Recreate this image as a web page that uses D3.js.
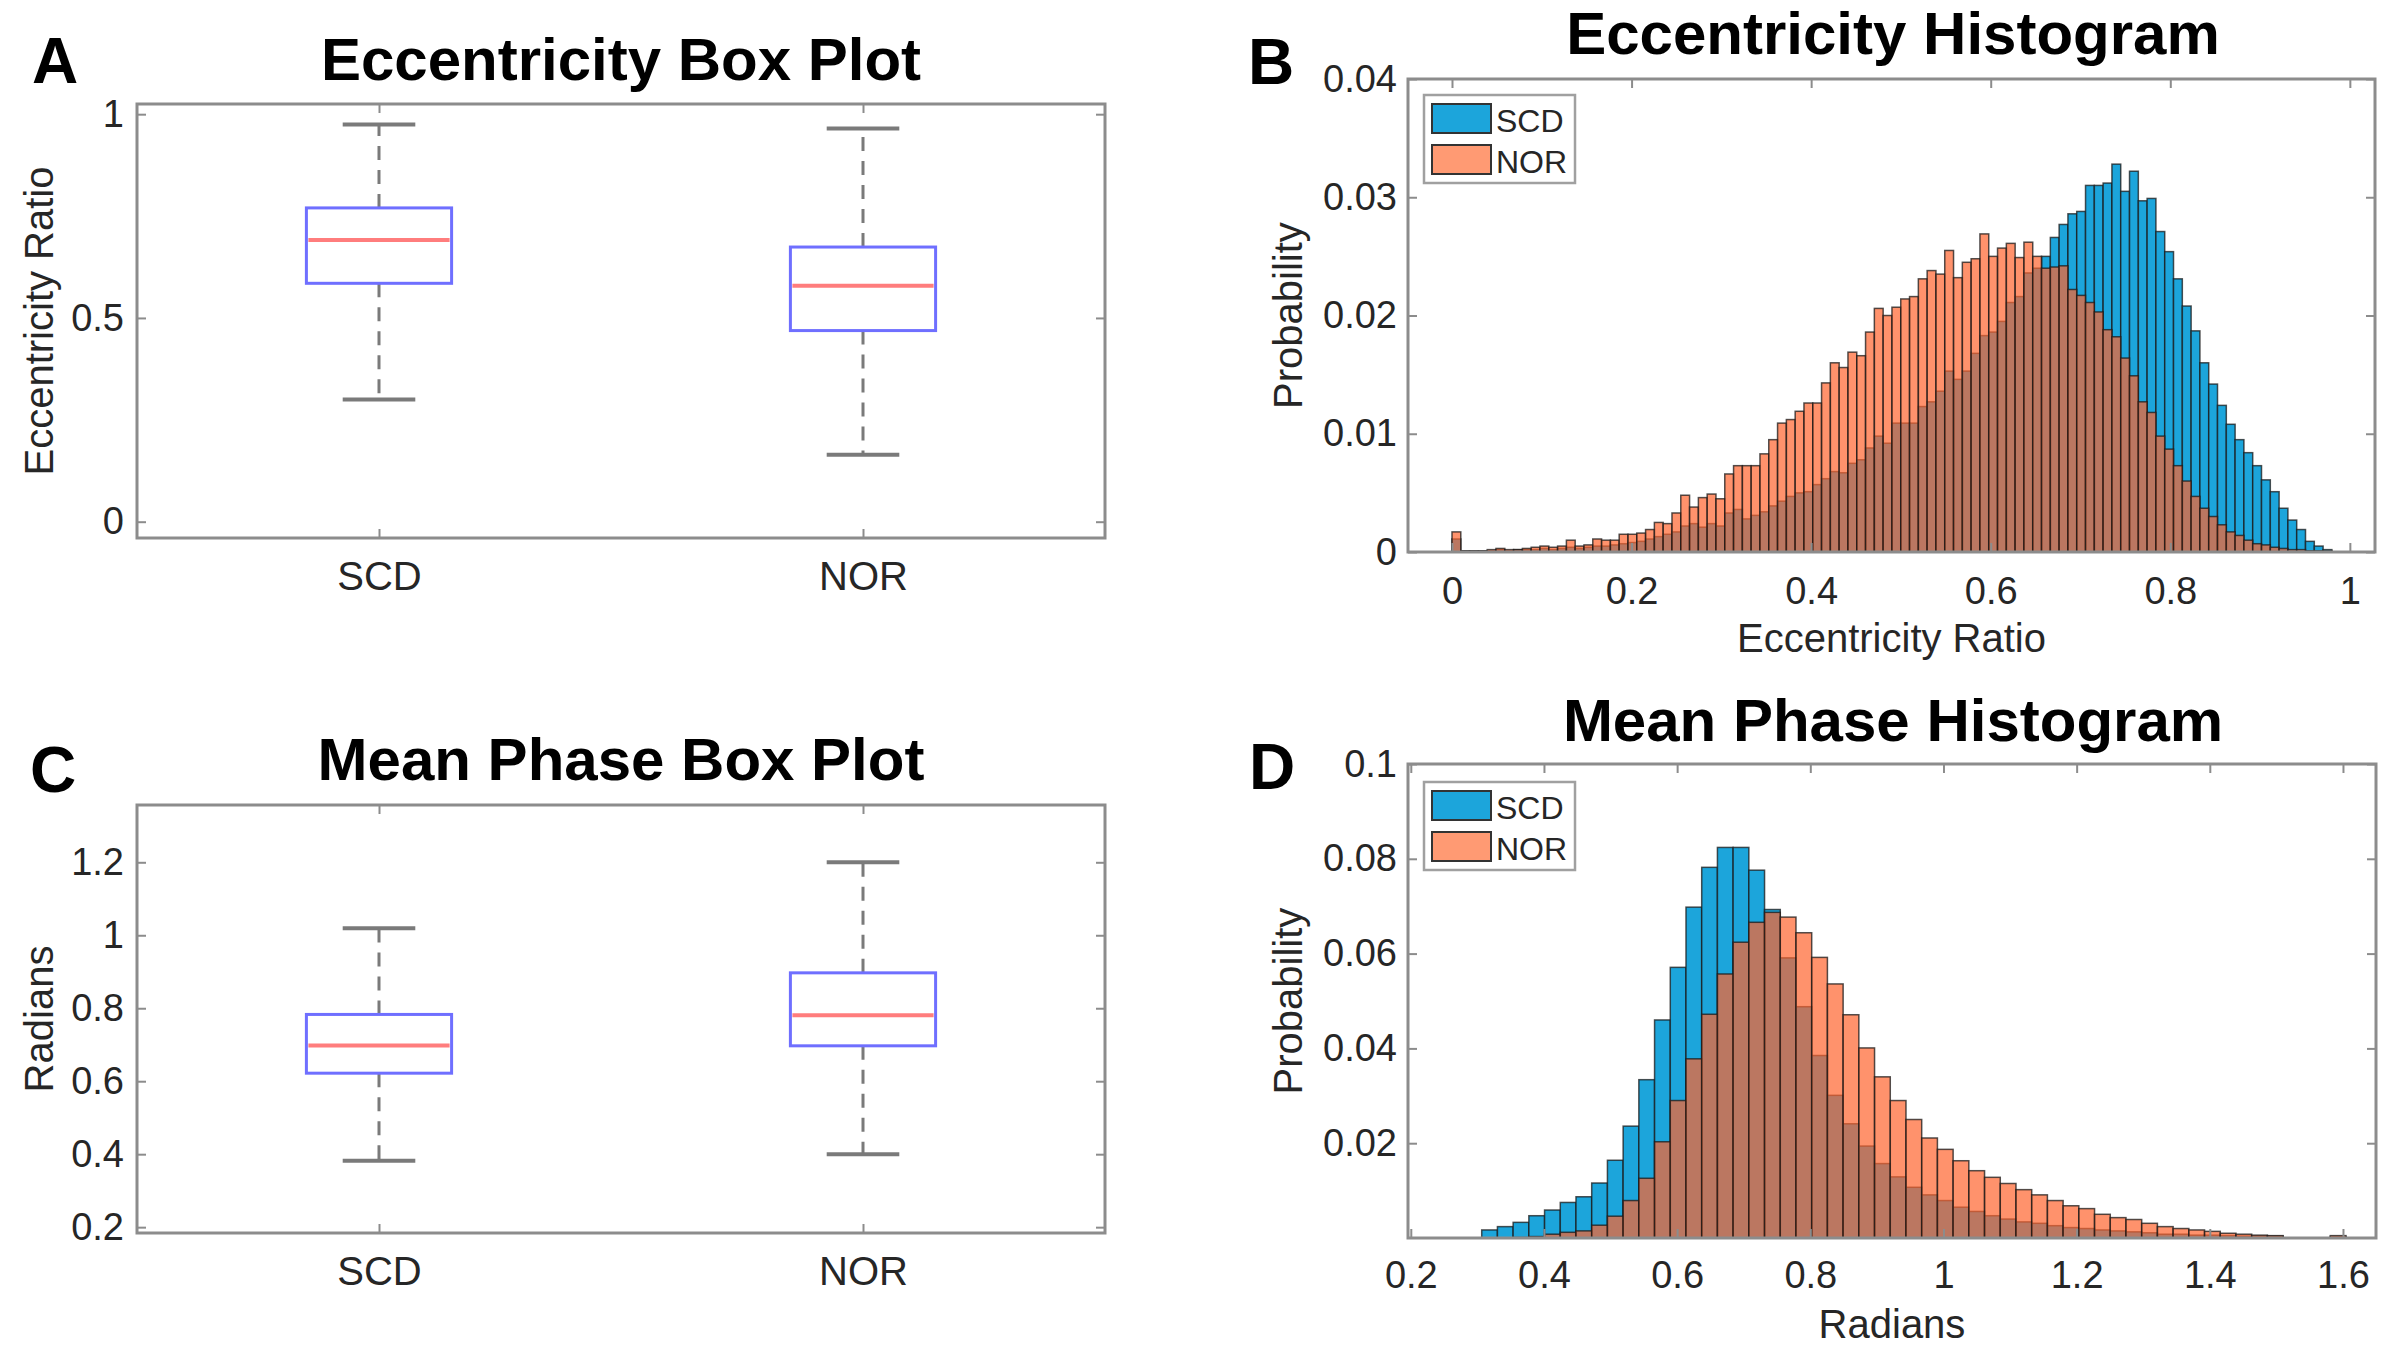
<!DOCTYPE html>
<html>
<head>
<meta charset="utf-8">
<script src="https://cdn.jsdelivr.net/npm/d3@7"></script>
<style>
  body { margin: 0; background: #fff; }
  svg { display: block; }
  text { font-family: "Liberation Sans", Arial, Helvetica, sans-serif; }
</style>
</head>
<body>
<svg width="2392" height="1361"></svg>
<script>
// ---- data ----
const groups = ["SCD", "NOR"];

// box plot stats: [lower whisker, q1, median, q3, upper whisker]
const eccBoxSCD = [0.300, 0.585, 0.691, 0.770, 0.975];
const eccBoxNOR = [0.164, 0.469, 0.579, 0.674, 0.965];
const phaseBoxSCD = [0.382, 0.622, 0.698, 0.783, 1.019];
const phaseBoxNOR = [0.400, 0.697, 0.781, 0.897, 1.200];

// eccentricity histogram (probability per bin)
const eccBinStart = 0;
const eccBinWidth = 0.0098;
const eccSCD = [
  0.0011, 0.0001, 0.0001, 0.0001, 0.0001, 0.0002, 0.0001, 0.0002, 0.0002, 0.0002,
  0.0003, 0.0002, 0.0003, 0.0004, 0.0003, 0.0004, 0.0005, 0.0005, 0.0006, 0.0007,
  0.0008, 0.0009, 0.0011, 0.0013, 0.0015, 0.0017, 0.0022, 0.0024, 0.0021, 0.0024,
  0.0022, 0.0033, 0.0036, 0.0028, 0.0031, 0.0034, 0.0039, 0.0043, 0.0047, 0.0050,
  0.0051, 0.0057, 0.0062, 0.0068, 0.0067, 0.0075, 0.0078, 0.0088, 0.0098, 0.0092,
  0.0109, 0.0109, 0.0109, 0.0123, 0.0127, 0.0136, 0.0153, 0.0146, 0.0153, 0.0168,
  0.0183, 0.0186, 0.0195, 0.0211, 0.0216, 0.0236, 0.0240, 0.0250, 0.0266, 0.0277,
  0.0286, 0.0288, 0.0310, 0.0310, 0.0312, 0.0328, 0.0305, 0.0322, 0.0297, 0.0299,
  0.0271, 0.0254, 0.0231, 0.0208, 0.0187, 0.0160, 0.0142, 0.0124, 0.0108, 0.0095,
  0.0084, 0.0073, 0.0061, 0.0051, 0.0037, 0.0027, 0.0019, 0.0009, 0.0005, 0.0002
];
const eccNOR = [
  0.0017, 0.0001, 0.0001, 0.0001, 0.0002, 0.0003, 0.0002, 0.0002, 0.0003, 0.0004,
  0.0005, 0.0004, 0.0005, 0.0010, 0.0005, 0.0006, 0.0011, 0.0010, 0.0010, 0.0015,
  0.0015, 0.0016, 0.0019, 0.0025, 0.0024, 0.0033, 0.0048, 0.0038, 0.0046, 0.0049,
  0.0045, 0.0066, 0.0073, 0.0073, 0.0073, 0.0083, 0.0095, 0.0109, 0.0112, 0.0119,
  0.0126, 0.0126, 0.0143, 0.0160, 0.0156, 0.0169, 0.0166, 0.0186, 0.0206, 0.0200,
  0.0207, 0.0214, 0.0216, 0.0231, 0.0238, 0.0235, 0.0255, 0.0232, 0.0245, 0.0248,
  0.0269, 0.0250, 0.0257, 0.0261, 0.0249, 0.0262, 0.0250, 0.0240, 0.0241, 0.0242,
  0.0222, 0.0217, 0.0211, 0.0203, 0.0188, 0.0182, 0.0164, 0.0149, 0.0127, 0.0118,
  0.0098, 0.0087, 0.0073, 0.0060, 0.0047, 0.0037, 0.0030, 0.0023, 0.0017, 0.0014,
  0.0010, 0.0007, 0.0006, 0.0004, 0.0003, 0.0002, 0.0002, 0.0001, 0.0001, 0.0001
];

// mean phase histogram
const phaseBinStart = 0.3065;
const phaseBinWidth = 0.0236;
const phaseSCD = [
  0.0017, 0.0024, 0.0033, 0.0047, 0.0059, 0.0075, 0.0087, 0.0116, 0.0164, 0.0236,
  0.0334, 0.0460, 0.0571, 0.0698, 0.0782, 0.0824, 0.0824, 0.0776, 0.0693, 0.0591,
  0.0488, 0.0385, 0.0301, 0.0241, 0.0194, 0.0157, 0.0129, 0.0107, 0.0091, 0.0079,
  0.0065, 0.0056, 0.0047, 0.0040, 0.0034, 0.0031, 0.0026, 0.0022, 0.0020, 0.0017,
  0.0015, 0.0013, 0.0011, 0.0008, 0.0008, 0.0006, 0.0006, 0.0005, 0.0004, 0.0004,
  0.0004, 0, 0, 0, 0.0003
];
const phaseNOR = [
  0, 0, 0.0001, 0.0003, 0.0008, 0.0012, 0.0015, 0.0027, 0.0046, 0.0079,
  0.0126, 0.0203, 0.0290, 0.0378, 0.0472, 0.0557, 0.0624, 0.0666, 0.0687, 0.0677,
  0.0644, 0.0592, 0.0536, 0.0471, 0.0401, 0.0340, 0.0290, 0.0250, 0.0211, 0.0187,
  0.0163, 0.0142, 0.0128, 0.0115, 0.0102, 0.0091, 0.0079, 0.0068, 0.0062, 0.0050,
  0.0043, 0.0039, 0.0031, 0.0024, 0.0020, 0.0017, 0.0014, 0.0010, 0.0008, 0.0006,
  0.0005, 0, 0, 0, 0.0005
];

// ticks
const eccBoxTicks = [0, 0.5, 1];
const phaseBoxTicks = [0.2, 0.4, 0.6, 0.8, 1, 1.2];
const eccHistXTicks = [0, 0.2, 0.4, 0.6, 0.8, 1];
const eccHistYTicks = [0, 0.01, 0.02, 0.03, 0.04];
const phaseHistXTicks = [0.2, 0.4, 0.6, 0.8, 1, 1.2, 1.4, 1.6];
const phaseHistYTicks = [0.02, 0.04, 0.06, 0.08, 0.1];

// ---- drawing ----
const svg = d3.select("svg");
const frameColor = "#8c8c8c";
const textColor = "#262626";
const scdColor = "#1ca5db";
const norColor = "rgb(255,100,45)";

function frameAxes(g, p, x, y, xTicks, yTicks, xFmt, yFmt, xPad, yPad) {
  // inward ticks on all four sides, labels on left and bottom
  const bottom = g.append("g")
    .attr("transform", `translate(0,${p.y1})`)
    .call(d3.axisBottom(x).tickValues(xTicks).tickFormat(xFmt).tickSize(-9).tickPadding(xPad));
  const top = g.append("g")
    .attr("transform", `translate(0,${p.y0})`)
    .call(d3.axisTop(x).tickValues(xTicks).tickFormat("").tickSize(-9));
  const left = g.append("g")
    .attr("transform", `translate(${p.x0},0)`)
    .call(d3.axisLeft(y).tickValues(yTicks).tickFormat(yFmt).tickSize(-9).tickPadding(yPad));
  const right = g.append("g")
    .attr("transform", `translate(${p.x1},0)`)
    .call(d3.axisRight(y).tickValues(yTicks).tickFormat("").tickSize(-9));
  [bottom, top, left, right].forEach(a => {
    a.select(".domain").remove();
    a.selectAll(".tick line").attr("stroke", frameColor).attr("stroke-width", 2);
    a.selectAll("text").attr("fill", textColor).attr("font-size", 38)
      .attr("font-family", '"Liberation Sans", Arial, sans-serif');
  });
  g.append("rect")
    .attr("x", p.x0).attr("y", p.y0)
    .attr("width", p.x1 - p.x0).attr("height", p.y1 - p.y0)
    .attr("fill", "none").attr("stroke", frameColor).attr("stroke-width", 3);
  return { bottom, left };
}

function label(text, x, y, size, weight, rotate, family) {
  const t = svg.append("text")
    .attr("x", x).attr("y", y)
    .attr("text-anchor", "middle")
    .attr("font-size", size)
    .attr("font-weight", weight || "normal")
    .attr("fill", weight === "bold" ? "#000" : textColor)
    .text(text);
  if (family) t.attr("font-family", family);
  if (rotate) t.attr("transform", `rotate(-90,${x},${y})`);
  return t;
}

function boxPanel(p, stats, yDomain, yTicks) {
  const g = svg.append("g");
  const x = d3.scaleLinear().domain([0.5, 2.5]).range([p.x0, p.x1]);
  const y = d3.scaleLinear().domain(yDomain).range([p.y1, p.y0]);
  const axes = frameAxes(g, p, x, y, [1, 2], yTicks, (d, i) => groups[i], d3.format("~g"), 24, 13);
  axes.bottom.selectAll("text").attr("font-size", 40);

  const boxW = 0.3, capW = 0.15;
  stats.forEach((s, i) => {
    const cx = i + 1;
    const [lo, q1, med, q3, hi] = s;
    // whiskers
    [[q3, hi], [q1, lo]].forEach(([a, b]) => {
      g.append("line")
        .attr("x1", x(cx)).attr("x2", x(cx))
        .attr("y1", y(a)).attr("y2", y(b))
        .attr("stroke", "#7a7a7a").attr("stroke-width", 3)
        .attr("stroke-dasharray", "14,10");
      g.append("line")
        .attr("x1", x(cx - capW / 2)).attr("x2", x(cx + capW / 2))
        .attr("y1", y(b)).attr("y2", y(b))
        .attr("stroke", "#7a7a7a").attr("stroke-width", 4);
    });
    g.append("rect")
      .attr("x", x(cx - boxW / 2)).attr("y", y(q3))
      .attr("width", x(cx + boxW / 2) - x(cx - boxW / 2))
      .attr("height", y(q1) - y(q3))
      .attr("fill", "none").attr("stroke", "#6f6fff").attr("stroke-width", 3);
    g.append("line")
      .attr("x1", x(cx - boxW / 2) + 2).attr("x2", x(cx + boxW / 2) - 2)
      .attr("y1", y(med)).attr("y2", y(med))
      .attr("stroke", "#ff7d7d").attr("stroke-width", 4);
  });
}

function histPanel(p, id, series, binStart, binWidth, xDomain, yDomain, xTicks, yTicks, xPad, yPad, legendTop) {
  const g = svg.append("g");
  const x = d3.scaleLinear().domain(xDomain).range([p.x0, p.x1]);
  const y = d3.scaleLinear().domain(yDomain).range([p.y1, p.y0]);

  g.append("clipPath").attr("id", id)
    .append("rect").attr("x", p.x0).attr("y", p.y0)
    .attr("width", p.x1 - p.x0).attr("height", p.y1 - p.y0);
  const plot = g.append("g").attr("clip-path", `url(#${id})`);

  series.forEach(s => {
    plot.append("g").selectAll("rect")
      .data(s.values.map((v, i) => ({ v, i })).filter(d => d.v > 0))
      .join("rect")
      .attr("x", d => x(binStart + d.i * binWidth))
      .attr("width", d => x(binStart + (d.i + 1) * binWidth) - x(binStart + d.i * binWidth))
      .attr("y", d => y(d.v))
      .attr("height", d => y(yDomain[0]) - y(d.v))
      .attr("fill", s.color)
      .attr("fill-opacity", s.opacity)
      .attr("stroke", "#1a1a1a")
      .attr("stroke-opacity", 0.75)
      .attr("stroke-width", 1.5);
  });

  frameAxes(g, p, x, y, xTicks, yTicks, d3.format("~g"), d3.format("~g"), xPad, yPad);

  // legend
  const lg = g.append("g");
  lg.append("rect")
    .attr("x", p.x0 + 16).attr("y", legendTop)
    .attr("width", 151).attr("height", 88)
    .attr("fill", "#fff").attr("stroke", "#a0a0a0").attr("stroke-width", 2.5);
  series.forEach((s, i) => {
    const sy = legendTop + 9 + i * 41;
    lg.append("rect")
      .attr("x", p.x0 + 24).attr("y", sy)
      .attr("width", 59).attr("height", 29)
      .attr("fill", s.legendColor)
      .attr("stroke", "#333").attr("stroke-width", 2);
    lg.append("text")
      .attr("x", p.x0 + 88).attr("y", sy + 28)
      .attr("font-size", 32).attr("fill", textColor)
      .text(s.name);
  });
}

// layout (pixel boxes of the four axes)
const pA = { x0: 137, x1: 1105, y0: 104, y1: 538 };
const pB = { x0: 1408, x1: 2375, y0: 79, y1: 552 };
const pC = { x0: 137, x1: 1105, y0: 805, y1: 1233 };
const pD = { x0: 1408, x1: 2376, y0: 764, y1: 1238 };

boxPanel(pA, [eccBoxSCD, eccBoxNOR], [-0.04, 1.025], eccBoxTicks);
boxPanel(pC, [phaseBoxSCD, phaseBoxNOR], [0.184, 1.357], phaseBoxTicks);

histPanel(pB, "clipB",
  [{ name: "SCD", values: eccSCD, color: scdColor, opacity: 1, legendColor: scdColor },
   { name: "NOR", values: eccNOR, color: norColor, opacity: 0.7, legendColor: "#ff9a73" }],
  eccBinStart, eccBinWidth, [-0.049, 1.028], [0, 0.04], eccHistXTicks, eccHistYTicks, 25, 11, 95);

histPanel(pD, "clipD",
  [{ name: "SCD", values: phaseSCD, color: scdColor, opacity: 1, legendColor: scdColor },
   { name: "NOR", values: phaseNOR, color: norColor, opacity: 0.7, legendColor: "#ff9a73" }],
  phaseBinStart, phaseBinWidth, [0.1958, 1.6496], [0, 0.1], phaseHistXTicks, phaseHistYTicks, 23, 11, 782);

// titles
label("Eccentricity Box Plot", 621, 80, 60, "bold");
label("Eccentricity Histogram", 1893, 54, 60, "bold");
label("Mean Phase Box Plot", 621, 780, 60, "bold");
label("Mean Phase Histogram", 1893, 741, 60, "bold");

// axis labels
label("Eccentricity Ratio", 53, (pA.y0 + pA.y1) / 2, 40, null, true);
label("Radians", 53, (pC.y0 + pC.y1) / 2, 40, null, true);
label("Probability", 1302, (pB.y0 + pB.y1) / 2, 40, null, true);
label("Probability", 1302, (pD.y0 + pD.y1) / 2, 40, null, true);
label("Eccentricity Ratio", (pB.x0 + pB.x1) / 2, 652, 40);
label("Radians", (pD.x0 + pD.x1) / 2, 1338, 40);

// panel letters
const letterFont = '"Open Sans", "Liberation Sans", Arial, sans-serif';
label("A", 55, 83, 64, "bold", false, letterFont);
label("B", 1271, 84, 64, "bold", false, letterFont);
label("C", 53, 792, 64, "bold", false, letterFont);
label("D", 1272, 789, 64, "bold", false, letterFont);
</script>
</body>
</html>
